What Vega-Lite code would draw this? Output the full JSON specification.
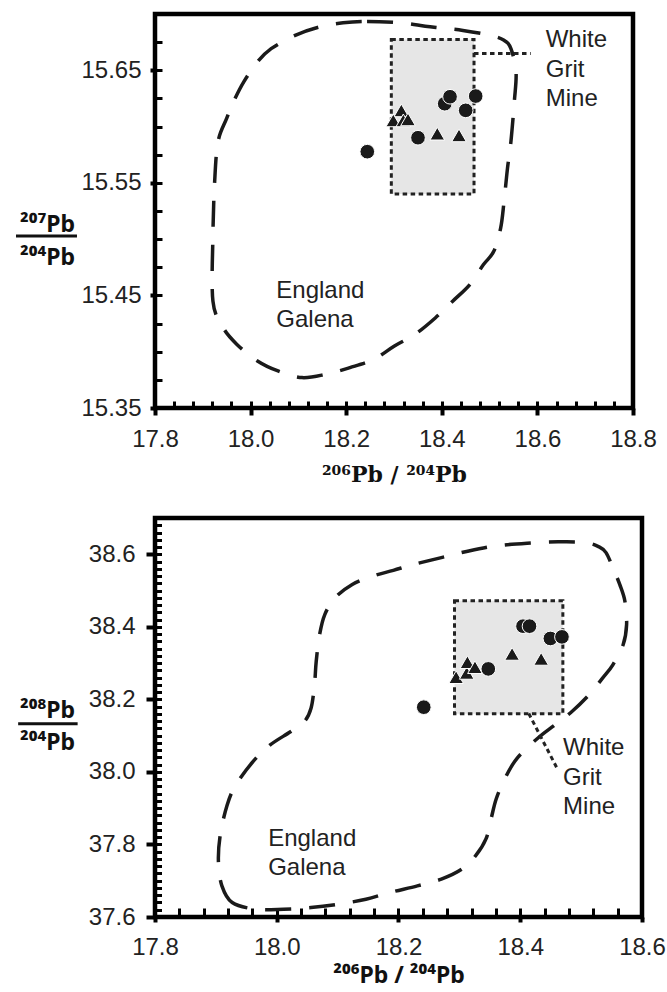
{
  "$schema": "https://vega.github.io/schema/vega-lite/v6.json",
  "padding": {"left": 12, "top": 11, "right": 0, "bottom": 0},
  "spacing": 27,
  "config": {
    "view": {"stroke": "#000", "strokeWidth": 4.5},
    "axis": {"domain": false, "grid": false, "tickColor": "#000", "labelFont": "Liberation Sans", "labelFontSize": 24, "labelColor": "#222", "labelFlush": false, "labelBound": false, "titleColor": "#111"}
  },
  "datasets": {
    "c1": [
      {"i":1,"x":18.1935,"y":15.6922},{"i":2,"x":18.2436,"y":15.6934},{"i":3,"x":18.3153,"y":15.6922},{"i":4,"x":18.3654,"y":15.6892},
      {"i":5,"x":18.4013,"y":15.6875},{"i":6,"x":18.4442,"y":15.6854},{"i":7,"x":18.5016,"y":15.6810},{"i":8,"x":18.5302,"y":15.6766},
      {"i":9,"x":18.5446,"y":15.6692},{"i":10,"x":18.5553,"y":15.6485},{"i":11,"x":18.5517,"y":15.6220},{"i":12,"x":18.5446,"y":15.5866},
      {"i":13,"x":18.5374,"y":15.5629},{"i":14,"x":18.5302,"y":15.5334},{"i":15,"x":18.5231,"y":15.5098},{"i":16,"x":18.5087,"y":15.4892},
      {"i":17,"x":18.4872,"y":15.4774},{"i":18,"x":18.4586,"y":15.4597},{"i":19,"x":18.4228,"y":15.4449},{"i":20,"x":18.3869,"y":15.4302},
      {"i":21,"x":18.3439,"y":15.4154},{"i":22,"x":18.3009,"y":15.4051},{"i":23,"x":18.2580,"y":15.3933},{"i":24,"x":18.2078,"y":15.3859},
      {"i":25,"x":18.1576,"y":15.3800},{"i":26,"x":18.1075,"y":15.3770},{"i":27,"x":18.0573,"y":15.3829},{"i":28,"x":18.0143,"y":15.3918},
      {"i":29,"x":17.9714,"y":15.4065},{"i":30,"x":17.9427,"y":15.4213},{"i":31,"x":17.9212,"y":15.4449},{"i":32,"x":17.9212,"y":15.5039},
      {"i":33,"x":17.9248,"y":15.5511},{"i":34,"x":17.9319,"y":15.5866},{"i":35,"x":17.9499,"y":15.6072},{"i":36,"x":17.9642,"y":15.6220},
      {"i":37,"x":17.9857,"y":15.6397},{"i":38,"x":18.0143,"y":15.6574},{"i":39,"x":18.0430,"y":15.6692},{"i":40,"x":18.0932,"y":15.6810},
      {"i":41,"x":18.1433,"y":15.6884}
    ],
    "c2": [
      {"i":1,"x":17.9662,"y":37.6213},{"i":2,"x":17.9268,"y":37.6398},{"i":3,"x":17.9099,"y":37.6859},{"i":4,"x":17.9042,"y":37.7506},
      {"i":5,"x":17.9070,"y":37.8244},{"i":6,"x":17.9183,"y":37.9075},{"i":7,"x":17.9324,"y":37.9629},{"i":8,"x":17.9606,"y":38.0276},
      {"i":9,"x":17.9887,"y":38.0737},{"i":10,"x":18.0225,"y":38.1107},{"i":11,"x":18.0451,"y":38.1383},{"i":12,"x":18.0563,"y":38.1753},
      {"i":13,"x":18.0620,"y":38.2399},{"i":14,"x":18.0648,"y":38.3045},{"i":15,"x":18.0704,"y":38.3784},{"i":16,"x":18.0789,"y":38.4338},
      {"i":17,"x":18.0958,"y":38.4800},{"i":18,"x":18.1240,"y":38.5169},{"i":19,"x":18.1578,"y":38.5400},{"i":20,"x":18.1916,"y":38.5557},
      {"i":21,"x":18.2254,"y":38.5723},{"i":22,"x":18.2704,"y":38.5908},{"i":23,"x":18.3155,"y":38.6092},{"i":24,"x":18.3606,"y":38.6231},
      {"i":25,"x":18.4113,"y":38.6305},{"i":26,"x":18.4620,"y":38.6342},{"i":27,"x":18.5071,"y":38.6323},{"i":28,"x":18.5296,"y":38.6203},
      {"i":29,"x":18.5409,"y":38.6046},{"i":30,"x":18.5521,"y":38.5631},{"i":31,"x":18.5634,"y":38.5169},{"i":32,"x":18.5719,"y":38.4707},
      {"i":33,"x":18.5747,"y":38.4061},{"i":34,"x":18.5690,"y":38.3507},{"i":35,"x":18.5521,"y":38.2953},{"i":36,"x":18.5352,"y":38.2584},
      {"i":37,"x":18.5127,"y":38.2122},{"i":38,"x":18.4845,"y":38.1660},{"i":39,"x":18.4564,"y":38.1291},{"i":40,"x":18.4282,"y":38.0922},
      {"i":41,"x":18.3944,"y":38.0368},{"i":42,"x":18.3747,"y":37.9814},{"i":43,"x":18.3606,"y":37.9260},{"i":44,"x":18.3521,"y":37.8706},
      {"i":45,"x":18.3437,"y":37.8152},{"i":46,"x":18.3268,"y":37.7690},{"i":47,"x":18.3042,"y":37.7321},{"i":48,"x":18.2704,"y":37.7044},
      {"i":49,"x":18.2310,"y":37.6859},{"i":50,"x":18.1859,"y":37.6675},{"i":51,"x":18.1465,"y":37.6490},{"i":52,"x":18.1014,"y":37.6352},
      {"i":53,"x":18.0563,"y":37.6259},{"i":54,"x":18.0113,"y":37.6213}
    ],
    "p1": [
      {"x":18.2441,"y":15.5777,"m":"c"},{"x":18.3502,"y":15.5901,"m":"c"},{"x":18.4061,"y":15.6203,"m":"c"},
      {"x":18.4172,"y":15.6265,"m":"c"},{"x":18.4500,"y":15.6144,"m":"c"},{"x":18.4709,"y":15.6271,"m":"c"},
      {"x":18.3153,"y":15.6144,"m":"t"},{"x":18.2985,"y":15.6055,"m":"t"},{"x":18.3195,"y":15.6055,"m":"t"},
      {"x":18.3293,"y":15.6064,"m":"t"},{"x":18.3906,"y":15.5937,"m":"t"},{"x":18.4360,"y":15.5922,"m":"t"}
    ],
    "p2": [
      {"x":18.2415,"y":38.1784,"m":"c"},{"x":18.3475,"y":38.2840,"m":"c"},{"x":18.4045,"y":38.4018,"m":"c"},
      {"x":18.4152,"y":38.4018,"m":"c"},{"x":18.4495,"y":38.3679,"m":"c"},{"x":18.4685,"y":38.3723,"m":"c"},
      {"x":18.2947,"y":38.2612,"m":"t"},{"x":18.3121,"y":38.2730,"m":"t"},{"x":18.3132,"y":38.3025,"m":"t"},
      {"x":18.3256,"y":38.2887,"m":"t"},{"x":18.3866,"y":38.3254,"m":"t"},{"x":18.4343,"y":38.3116,"m":"t"}
    ],
    "b1": [{"x":18.2944,"x2":18.4674,"y":15.5401,"y2":15.6773}],
    "l1": [{"x":18.4674,"x2":18.5860,"y":15.665,"y2":15.665}],
    "t1": [{"x":18.6174,"y":15.6706,"text":"White\nGrit\nMine"},{"x":18.0538,"y":15.4480,"text":"England\nGalena"}],
    "b2": [{"x":18.292,"x2":18.470,"y":38.160,"y2":38.472}],
    "l2": [{"x":18.414,"x2":18.462,"y":38.161,"y2":38.005}],
    "t2": [{"x":18.4704,"y":38.046,"text":"White\nGrit\nMine"},{"x":17.9859,"y":37.7967,"text":"England\nGalena"}]
  },
  "vconcat": [
    {
      "width": 478,
      "height": 394,
      "resolve": {"axis": {"x": "independent", "y": "independent"}},
      "layer": [
        {
          "data": {"name": "c1"},
          "mark": {"type": "line", "interpolate": "cardinal-closed", "stroke": "#1a1a1a", "strokeWidth": 3.5, "strokeDash": [26, 18]},
          "encoding": {
            "x": {"field": "x", "type": "quantitative", "scale": {"domain": [17.8, 18.8], "nice": false, "zero": false},
                  "axis": {"orient": "bottom", "values": [17.8, 18.0, 18.2, 18.4, 18.6, 18.8], "format": ".1f", "tickSize": 7, "tickWidth": 4, "labelPadding": 12,
                           "title": "²⁰⁶Pb / ²⁰⁴Pb", "titleFont": "DejaVu Serif", "titleFontWeight": "bold", "titleFontSize": 22, "titleBaseline": "alphabetic", "titleY": 73}},
            "y": {"field": "y", "type": "quantitative", "scale": {"domain": [15.35, 15.70], "nice": false, "zero": false},
                  "axis": {"orient": "left", "values": [15.35, 15.45, 15.55, 15.65], "format": ".2f", "tickSize": 5, "tickWidth": 4, "labelPadding": 9,
                           "title": ["²⁰⁷Pb", "²⁰⁴Pb"], "titleFont": "Noto Sans", "titleFontWeight": "bold", "titleFontSize": 23, "titleAngle": 0, "titleAlign": "center", "titleBaseline": "alphabetic", "titleX": -108, "titleY": 217, "titleLineHeight": 33}},
            "order": {"field": "i", "type": "quantitative"}
          }
        },
        {
          "data": {"name": "b1"},
          "mark": {"type": "rect", "fill": "#e6e6e6", "stroke": "#222", "strokeWidth": 3, "strokeDash": [4.5, 3.5]},
          "encoding": {
            "x": {"field": "x", "type": "quantitative", "scale": {"domain": [17.8, 18.8], "nice": false, "zero": false},
                  "axis": {"orient": "bottom", "values": [17.84, 17.88, 17.92, 17.96, 18.0, 18.04, 18.08, 18.12, 18.16, 18.2, 18.24, 18.28, 18.32, 18.36, 18.4, 18.44, 18.48, 18.52, 18.56, 18.6, 18.64, 18.68, 18.72, 18.76], "tickSize": -7, "tickWidth": 3, "labels": false, "title": null}},
            "x2": {"field": "x2"},
            "y": {"field": "y", "type": "quantitative", "scale": {"domain": [15.35, 15.70], "nice": false, "zero": false},
                  "axis": {"orient": "left", "values": [15.375, 15.4, 15.425, 15.45, 15.475, 15.5, 15.525, 15.55, 15.575, 15.6, 15.625, 15.65, 15.675], "tickSize": -7, "tickWidth": 3, "labels": false, "title": null}},
            "y2": {"field": "y2"}
          }
        },
        {
          "data": {"name": "l1"},
          "mark": {"type": "rule", "stroke": "#222", "strokeWidth": 3, "strokeDash": [4.5, 3.5]},
          "encoding": {
            "x": {"field": "x", "type": "quantitative", "scale": {"domain": [17.8, 18.8], "nice": false, "zero": false}, "axis": null},
            "x2": {"field": "x2"},
            "y": {"field": "y", "type": "quantitative", "scale": {"domain": [15.35, 15.70], "nice": false, "zero": false}, "axis": null},
            "y2": {"field": "y2"}
          }
        },
        {
          "data": {"name": "p1"},
          "mark": {"type": "point", "filled": true, "size": 215, "stroke": "#fff", "strokeWidth": 1, "opacity": 1, "color": "#1a1a1a"},
          "encoding": {
            "x": {"field": "x", "type": "quantitative", "scale": {"domain": [17.8, 18.8], "nice": false, "zero": false}, "axis": null},
            "y": {"field": "y", "type": "quantitative", "scale": {"domain": [15.35, 15.70], "nice": false, "zero": false}, "axis": null},
            "shape": {"field": "m", "type": "nominal", "scale": {"domain": ["c", "t"], "range": ["circle", "triangle-up"]}, "legend": null}
          }
        },
        {
          "data": {"name": "t1"},
          "mark": {"type": "text", "align": "left", "baseline": "alphabetic", "font": "Liberation Sans", "fontSize": 24, "lineBreak": "\n", "lineHeight": 29.5, "fill": "#222"},
          "encoding": {
            "x": {"field": "x", "type": "quantitative", "scale": {"domain": [17.8, 18.8], "nice": false, "zero": false}, "axis": null},
            "y": {"field": "y", "type": "quantitative", "scale": {"domain": [15.35, 15.70], "nice": false, "zero": false}, "axis": null},
            "text": {"field": "text"}
          }
        },
        {
          "data": {"values": [{}]},
          "mark": {"type": "rule", "stroke": "#111", "strokeWidth": 3},
          "encoding": {
            "x": {"datum": 17.5092, "type": "quantitative", "scale": {"domain": [17.8, 18.8], "nice": false, "zero": false}, "axis": null},
            "x2": {"datum": 17.6368},
            "y": {"datum": 15.5029, "type": "quantitative", "scale": {"domain": [15.35, 15.70], "nice": false, "zero": false}, "axis": null}
          }
        }
      ]
    },
    {
      "width": 487,
      "height": 399,
      "resolve": {"axis": {"x": "independent", "y": "independent"}},
      "layer": [
        {
          "data": {"name": "c2"},
          "mark": {"type": "line", "interpolate": "cardinal-closed", "stroke": "#1a1a1a", "strokeWidth": 3.5, "strokeDash": [26, 18]},
          "encoding": {
            "x": {"field": "x", "type": "quantitative", "scale": {"domain": [17.8, 18.6], "nice": false, "zero": false},
                  "axis": {"orient": "bottom", "values": [17.8, 18.0, 18.2, 18.4, 18.6], "format": ".1f", "tickSize": 5, "tickWidth": 4, "labelPadding": 13,
                           "title": "²⁰⁶Pb / ²⁰⁴Pb", "titleFont": "Noto Sans", "titleFontWeight": "bold", "titleFontSize": 23, "titleBaseline": "alphabetic", "titleY": 65}},
            "y": {"field": "y", "type": "quantitative", "scale": {"domain": [37.6, 38.7], "nice": false, "zero": false},
                  "axis": {"orient": "left", "values": [37.6, 37.8, 38.0, 38.2, 38.4, 38.6], "format": ".1f", "tickSize": 9, "tickWidth": 4, "labelPadding": 11,
                           "title": ["²⁰⁸Pb", "²⁰⁴Pb"], "titleFont": "Noto Sans", "titleFontWeight": "bold", "titleFontSize": 23, "titleAngle": 0, "titleAlign": "center", "titleBaseline": "alphabetic", "titleX": -108, "titleY": 199, "titleLineHeight": 32}},
            "order": {"field": "i", "type": "quantitative"}
          }
        },
        {
          "data": {"name": "b2"},
          "mark": {"type": "rect", "fill": "#e6e6e6", "stroke": "#222", "strokeWidth": 3, "strokeDash": [4.5, 3.5]},
          "encoding": {
            "x": {"field": "x", "type": "quantitative", "scale": {"domain": [17.8, 18.6], "nice": false, "zero": false},
                  "axis": {"orient": "bottom", "values": [17.84, 17.88, 17.92, 17.96, 18.0, 18.04, 18.08, 18.12, 18.16, 18.2, 18.24, 18.28, 18.32, 18.36, 18.4, 18.44, 18.48, 18.52, 18.56], "tickSize": -9, "tickWidth": 3, "labels": false, "title": null}},
            "x2": {"field": "x2"},
            "y": {"field": "y", "type": "quantitative", "scale": {"domain": [37.6, 38.7], "nice": false, "zero": false},
                  "axis": {"orient": "left", "values": [37.62, 37.64, 37.66, 37.68, 37.7, 37.72, 37.74, 37.76, 37.78, 37.8, 37.82, 37.84, 37.86, 37.88, 37.9, 37.92, 37.94, 37.96, 37.98, 38.0, 38.02, 38.04, 38.06, 38.08, 38.1, 38.12, 38.14, 38.16, 38.18, 38.2, 38.22, 38.24, 38.26, 38.28, 38.3, 38.32, 38.34, 38.36, 38.38, 38.4, 38.42, 38.44, 38.46, 38.48, 38.5, 38.52, 38.54, 38.56, 38.58, 38.6, 38.62, 38.64, 38.66, 38.68], "tickSize": -6.5, "tickWidth": 3, "labels": false, "title": null}},
            "y2": {"field": "y2"}
          }
        },
        {
          "data": {"name": "l2"},
          "mark": {"type": "rule", "stroke": "#222", "strokeWidth": 3, "strokeDash": [4.5, 3.5]},
          "encoding": {
            "x": {"field": "x", "type": "quantitative", "scale": {"domain": [17.8, 18.6], "nice": false, "zero": false}, "axis": null},
            "x2": {"field": "x2"},
            "y": {"field": "y", "type": "quantitative", "scale": {"domain": [37.6, 38.7], "nice": false, "zero": false}, "axis": null},
            "y2": {"field": "y2"}
          }
        },
        {
          "data": {"name": "p2"},
          "mark": {"type": "point", "filled": true, "size": 215, "stroke": "#fff", "strokeWidth": 1, "opacity": 1, "color": "#1a1a1a"},
          "encoding": {
            "x": {"field": "x", "type": "quantitative", "scale": {"domain": [17.8, 18.6], "nice": false, "zero": false}, "axis": null},
            "y": {"field": "y", "type": "quantitative", "scale": {"domain": [37.6, 38.7], "nice": false, "zero": false}, "axis": null},
            "shape": {"field": "m", "type": "nominal", "scale": {"domain": ["c", "t"], "range": ["circle", "triangle-up"]}, "legend": null}
          }
        },
        {
          "data": {"name": "t2"},
          "mark": {"type": "text", "align": "left", "baseline": "alphabetic", "font": "Liberation Sans", "fontSize": 24, "lineBreak": "\n", "lineHeight": 29.5, "fill": "#222"},
          "encoding": {
            "x": {"field": "x", "type": "quantitative", "scale": {"domain": [17.8, 18.6], "nice": false, "zero": false}, "axis": null},
            "y": {"field": "y", "type": "quantitative", "scale": {"domain": [37.6, 38.7], "nice": false, "zero": false}, "axis": null},
            "text": {"field": "text"}
          }
        },
        {
          "data": {"values": [{}]},
          "mark": {"type": "rule", "stroke": "#111", "strokeWidth": 3},
          "encoding": {
            "x": {"datum": 17.5752, "type": "quantitative", "scale": {"domain": [17.8, 18.6], "nice": false, "zero": false}, "axis": null},
            "x2": {"datum": 17.6729},
            "y": {"datum": 38.1327, "type": "quantitative", "scale": {"domain": [37.6, 38.7], "nice": false, "zero": false}, "axis": null}
          }
        }
      ]
    }
  ]
}
